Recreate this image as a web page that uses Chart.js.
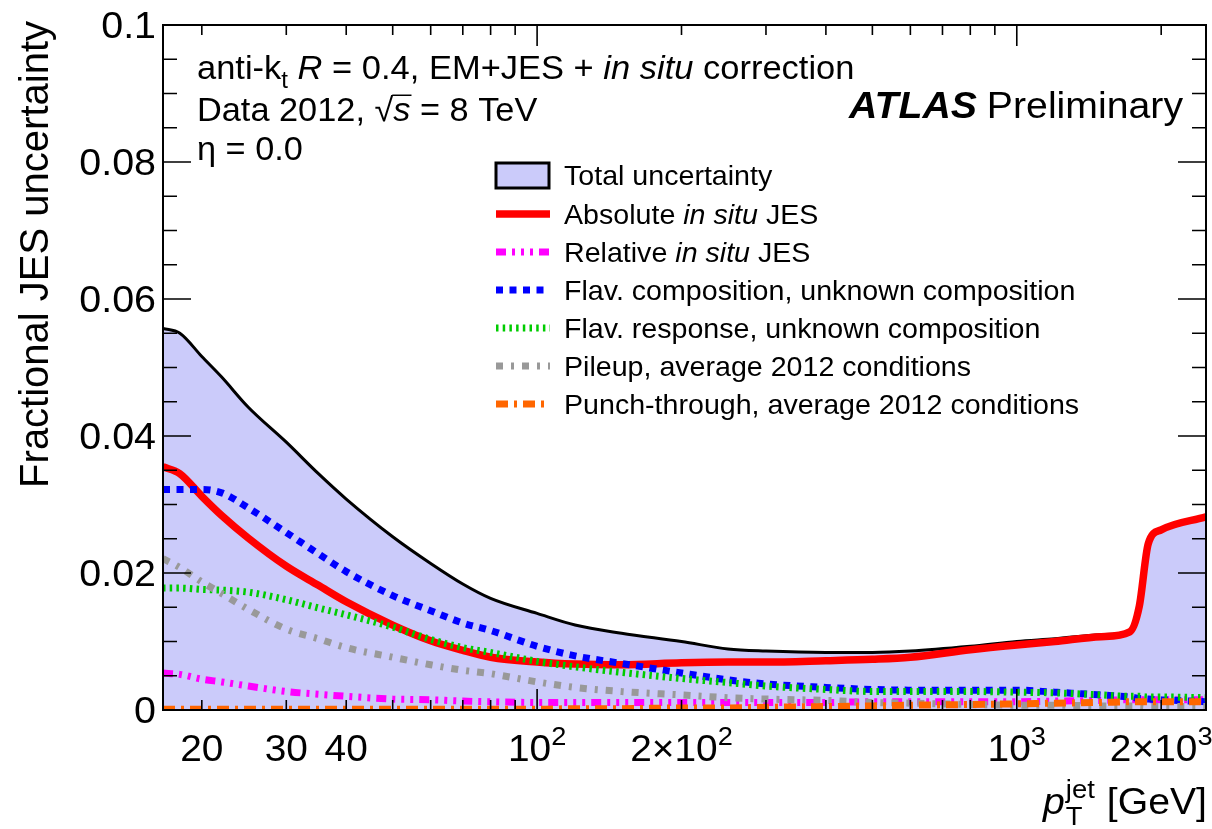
<!DOCTYPE html>
<html>
<head>
<meta charset="utf-8">
<title>Fractional JES uncertainty</title>
<script src="https://cdn.jsdelivr.net/npm/chart.js@4.4.1/dist/chart.umd.min.js"></script>
<style>
  html, body { margin: 0; padding: 0; background: #fff; }
  #wrap { width: 1212px; height: 829px; }
</style>
</head>
<body>
<div id="wrap"><canvas id="jesChart" width="1212" height="829"></canvas></div>
<script>
const ptValues = [16.6, 18, 20, 22, 25, 30, 35, 40, 50, 60, 70, 80, 100, 120, 150, 200, 250, 300, 400, 500, 600, 800, 1000, 1200, 1500, 1720, 1800, 1880, 2000, 2480];

const totalUnc = [0.0557, 0.0550, 0.0516, 0.0486, 0.0442, 0.0391, 0.0345, 0.0308, 0.0253, 0.0214, 0.0184, 0.0163, 0.0141, 0.0124, 0.0112, 0.0100, 0.0089, 0.0086, 0.0084, 0.0084, 0.0086, 0.0093, 0.0100, 0.0104, 0.0110, 0.0115, 0.0152, 0.0244, 0.0264, 0.0283];
const absInsitu = [0.0355, 0.0345, 0.0312, 0.0284, 0.0251, 0.0210, 0.0182, 0.0158, 0.0124, 0.0101, 0.0087, 0.0077, 0.0070, 0.0067, 0.0066, 0.0069, 0.0070, 0.0070, 0.0072, 0.0074, 0.0077, 0.0088, 0.0095, 0.0100, 0.0107, 0.0114, 0.0151, 0.0243, 0.0263, 0.0282];
const relInsitu = [0.0054, 0.0052, 0.0045, 0.0041, 0.0035, 0.0027, 0.0023, 0.0020, 0.0016, 0.0015, 0.0013, 0.0012, 0.0011, 0.0011, 0.0011, 0.0011, 0.0011, 0.0011, 0.0011, 0.0012, 0.0012, 0.0012, 0.0012, 0.0013, 0.0014, 0.0015, 0.0015, 0.0015, 0.0015, 0.0015];
const flavComp = [0.0322, 0.0322, 0.0322, 0.0317, 0.0295, 0.0259, 0.0228, 0.0202, 0.0167, 0.0145, 0.0127, 0.0116, 0.0093, 0.0079, 0.0068, 0.0054, 0.0044, 0.0038, 0.0033, 0.0030, 0.0029, 0.0029, 0.0029, 0.0026, 0.0022, 0.0019, 0.0017, 0.0016, 0.0015, 0.0012];
const flavResp = [0.0178, 0.0178, 0.0176, 0.0175, 0.0172, 0.0161, 0.0149, 0.0139, 0.0121, 0.0103, 0.0091, 0.0084, 0.0071, 0.0063, 0.0055, 0.0046, 0.0040, 0.0035, 0.0030, 0.0027, 0.0027, 0.0027, 0.0026, 0.0025, 0.0022, 0.0020, 0.0020, 0.0019, 0.0019, 0.0018];
const pileup = [0.0221, 0.0208, 0.0187, 0.0170, 0.0147, 0.0118, 0.0104, 0.0091, 0.0077, 0.0066, 0.0058, 0.0053, 0.0041, 0.0033, 0.0027, 0.0022, 0.0018, 0.0016, 0.0014, 0.0011, 0.0010, 0.0008, 0.0007, 0.0007, 0.0006, 0.0006, 0.0006, 0.0005, 0.0005, 0.0005];
const punchThrough = [0.0001, 0.0001, 0.0001, 0.0001, 0.0001, 0.0001, 0.0001, 0.0001, 0.0001, 0.0001, 0.0001, 0.0001, 0.0001, 0.0002, 0.0002, 0.0003, 0.0003, 0.0004, 0.0005, 0.0006, 0.0007, 0.0008, 0.0009, 0.0010, 0.0011, 0.0012, 0.0012, 0.0012, 0.0012, 0.0012];

// axis ticks and labels
const xMin = 16.6, xMax = 2480;
const yMin = 0, yMax = 0.1;
const xMinorTicks = [20, 30, 40, 50, 60, 70, 80, 90, 200, 300, 400, 500, 600, 700, 800, 900, 2000];
const xMajorTicks = [100, 1000];
const xLabelValues = [20, 30, 40, 100, 200, 1000, 2000];
const xLabelTexts = [[['20']], [['30']], [['40']], [['10'], ['2', 'sup']], [['2\u00d710'], ['2', 'sup']], [['10'], ['3', 'sup']], [['2\u00d710'], ['3', 'sup']]];
const yMajorTicks = [0, 0.02, 0.04, 0.06, 0.08, 0.1];
const yLabelTexts = ['0', '0.02', '0.04', '0.06', '0.08', '0.1'];
const yMinorStep = 0.005;

const seriesNames = [
    [['Total uncertainty']],
    [['Absolute '], ['in situ', 'i'], [' JES']],
    [['Relative '], ['in situ', 'i'], [' JES']],
    [['Flav. composition, unknown composition']],
    [['Flav. response, unknown composition']],
    [['Pileup, average 2012 conditions']],
    [['Punch-through, average 2012 conditions']]
];

const FONT = '"Liberation Sans", "Helvetica", Arial, sans-serif';

function fontFor(style, size) {
    let f = '';
    if (style.indexOf('i') >= 0) f += 'italic ';
    if (style.indexOf('b') >= 0) f += 'bold ';
    return f + size + 'px ' + FONT;
}

// draw a list of styled text runs: [text, style, extra], stretched by sx horizontally
function drawRuns(ctx, runs, x, y, size, align, sx) {
    sx = sx || 1;
    const items = [];
    let w = 0;
    runs.forEach(function(r) {
        const st = r[1] || '';
        if (st === 'sub' || st === 'sup') {
            const f = fontFor('', size * 0.7);
            ctx.font = f;
            const tw = ctx.measureText(r[0]).width;
            items.push({ t: r[0], f: f, x: w, dy: st === 'sub' ? size * 0.28 : -size * 0.42 });
            w += tw;
        } else if (st === 'stack') {
            const f = fontFor('', size * 0.7);
            ctx.font = f;
            const w1 = ctx.measureText(r[0]).width;
            const w2 = ctx.measureText(r[2]).width;
            items.push({ t: r[0], f: f, x: w + 1, dy: -size * 0.42 });
            items.push({ t: r[2], f: f, x: w + 1, dy: size * 0.3 });
            w += Math.max(w1, w2) + 2;
        } else {
            const f = fontFor(st, size);
            ctx.font = f;
            const tw = ctx.measureText(r[0]).width;
            items.push({ t: r[0], f: f, x: w, dy: 0, over: st.indexOf('o') >= 0, w: tw });
            w += tw + (r[2] || 0);
        }
    });
    const W = w * sx;
    let x0 = x;
    if (align === 'right') x0 = x - W;
    if (align === 'center') x0 = x - W / 2;
    ctx.save();
    ctx.translate(x0, y);
    ctx.scale(sx, 1);
    ctx.textAlign = 'left';
    ctx.textBaseline = 'alphabetic';
    items.forEach(function(it) {
        ctx.font = it.f;
        ctx.fillText(it.t, it.x, it.dy);
        if (it.over) {
            ctx.lineWidth = 1.5;
            ctx.beginPath();
            ctx.moveTo(it.x - 1, -size * 0.78);
            ctx.lineTo(it.x + it.w + 1, -size * 0.78);
            ctx.stroke();
        }
    });
    ctx.restore();
    return W;
}

const atlasDecor = {
    id: 'atlasDecor',
    afterDraw: function(chart) {
        const ctx = chart.ctx;
        const a = chart.chartArea;
        const xs = chart.scales.x, ys = chart.scales.y;
        ctx.save();
        ctx.fillStyle = '#000';
        ctx.strokeStyle = '#000';

        // frame
        ctx.lineWidth = 2;
        ctx.strokeRect(a.left, a.top, a.right - a.left, a.bottom - a.top);

        // x ticks (bottom and top, pointing inward)
        ctx.lineWidth = 1.6;
        function xTick(v, len) {
            const px = xs.getPixelForValue(v);
            ctx.beginPath();
            ctx.moveTo(px, a.bottom); ctx.lineTo(px, a.bottom - len);
            ctx.moveTo(px, a.top); ctx.lineTo(px, a.top + len);
            ctx.stroke();
        }
        xMinorTicks.forEach(function(v) { xTick(v, 10); });
        xMajorTicks.forEach(function(v) { xTick(v, 21); });

        // y ticks (left and right)
        for (let v = yMin; v <= yMax + 1e-9; v += yMinorStep) {
            const py = ys.getPixelForValue(v);
            const major = Math.abs(v / 0.02 - Math.round(v / 0.02)) < 1e-6;
            const len = major ? 28 : 14;
            ctx.beginPath();
            ctx.moveTo(a.left, py); ctx.lineTo(a.left + len, py);
            ctx.moveTo(a.right, py); ctx.lineTo(a.right - len, py);
            ctx.stroke();
        }

        // y labels
        yMajorTicks.forEach(function(v, i) {
            const py = ys.getPixelForValue(v);
            drawRuns(ctx, [[yLabelTexts[i]]], a.left - 7, py + 13, 37, 'right', 1.065);
        });

        // x labels
        xLabelValues.forEach(function(v, i) {
            const px = xs.getPixelForValue(v);
            drawRuns(ctx, xLabelTexts[i], px, 761, 37, 'center', 1.05);
        });

        // axis titles
        drawRuns(ctx, [['p', 'i'], ['jet', 'stack', 'T'], [' [GeV]']], a.right + 1, 814, 37, 'right', 1.06);
        ctx.save();
        ctx.translate(48, 21);
        ctx.rotate(-Math.PI / 2);
        drawRuns(ctx, [['Fractional JES uncertainty']], 0, 0, 40, 'right');
        ctx.restore();

        // plot labels
        drawRuns(ctx, [['anti-k'], ['t', 'sub'], [' '], ['R', 'i'], [' = 0.4, EM+JES + '], ['in situ', 'i'], [' correction']], 197, 79, 33, 'left', 1.045);
        drawRuns(ctx, [['Data 2012, \u221a'], ['s', 'io'], [' = 8 TeV']], 197, 121, 33, 'left', 1.04);
        drawRuns(ctx, [['\u03b7 = 0.0']], 197, 160, 33, 'left', 1.04);
        const pw = drawRuns(ctx, [['Preliminary']], 1183, 118, 37, 'right', 1.06);
        drawRuns(ctx, [['ATLAS', 'bi']], 1183 - pw - 10, 118, 37, 'right', 1.06);

        // legend
        const ds = chart.data.datasets;
        const rowY = [175, 214, 252, 290, 328, 366, 404];
        const lx0 = 496, lx1 = 550, tx = 564;
        ds.forEach(function(d, i) {
            const y = rowY[i];
            if (i === 0) {
                ctx.fillStyle = d.backgroundColor;
                ctx.fillRect(lx0, y - 12, lx1 - lx0 - 1, 25);
                ctx.lineWidth = 3;
                ctx.strokeStyle = '#000';
                ctx.strokeRect(lx0, y - 12, lx1 - lx0 - 1, 25);
            } else {
                ctx.save();
                ctx.strokeStyle = d.borderColor;
                ctx.lineWidth = d.borderWidth;
                ctx.setLineDash(d.borderDash || []);
                ctx.beginPath();
                ctx.moveTo(lx0, y); ctx.lineTo(lx1, y);
                ctx.stroke();
                ctx.restore();
            }
            ctx.fillStyle = '#000';
            drawRuns(ctx, seriesNames[i], tx, y + 10, 27.5, 'left', 1.04);
        });

        ctx.restore();
    }
};

function pts(arr) {
    return ptValues.map(function(p, i) { return { x: p, y: arr[i] }; });
}

new Chart(document.getElementById('jesChart'), {
    type: 'line',
    data: {
        datasets: [
            { data: pts(totalUnc), borderColor: '#000', borderWidth: 3, backgroundColor: 'rgb(203,203,250)', fill: 'origin', order: 7 },
            { data: pts(absInsitu), borderColor: '#ff0000', borderWidth: 7.5, fill: false, order: 6 },
            { data: pts(relInsitu), borderColor: '#ff00ff', borderWidth: 7, borderDash: [10, 6, 3, 6, 3, 6, 3, 6], fill: false, order: 5 },
            { data: pts(flavComp), borderColor: '#0000ff', borderWidth: 7, borderDash: [7, 6.5], fill: false, order: 4 },
            { data: pts(flavResp), borderColor: '#00cc00', borderWidth: 7, borderDash: [2.5, 4.2], fill: false, order: 3 },
            { data: pts(pileup), borderColor: '#999999', borderWidth: 7, borderDash: [7, 8, 3, 8], fill: false, order: 2 },
            { data: pts(punchThrough), borderColor: '#ff6600', borderWidth: 7, borderDash: [12, 6, 3, 6], fill: false, order: 1 }
        ]
    },
    options: {
        responsive: false,
        animation: false,
        devicePixelRatio: 1,
        layout: { padding: { left: 163, right: 6, top: 25, bottom: 119 } },
        elements: {
            point: { radius: 0, hoverRadius: 0 },
            line: { cubicInterpolationMode: 'monotone', borderCapStyle: 'butt', borderJoinStyle: 'round' }
        },
        scales: {
            x: { type: 'logarithmic', min: xMin, max: xMax, display: false },
            y: { type: 'linear', min: yMin, max: yMax, display: false }
        },
        plugins: {
            legend: { display: false },
            tooltip: { enabled: false }
        }
    },
    plugins: [atlasDecor]
});
</script>
</body>
</html>
